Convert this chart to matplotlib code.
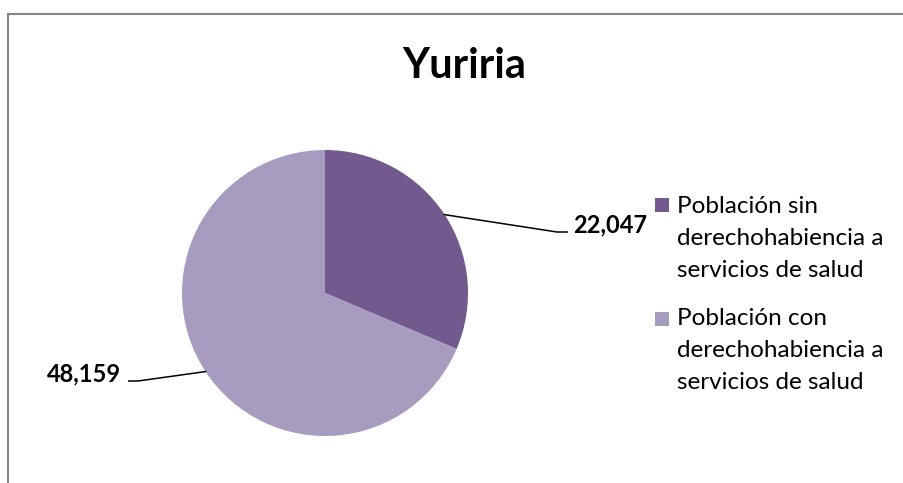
import numpy as np
import matplotlib
matplotlib.use("Agg")
import matplotlib.pyplot as plt
from matplotlib.patches import Rectangle

title = "Yuriria"
categories = ["Población sin\nderechohabiencia a\nservicios de salud",
              "Población con\nderechohabiencia a\nservicios de salud"]
values = [22047, 48159]
value_labels = ["22,047", "48,159"]
colors = ["#725A8E", "#A89BC0"]

plt.rcParams['font.family'] = ['Lato', 'DejaVu Sans']

W, H = 904, 483
fig = plt.figure(figsize=(W / 100, H / 100), dpi=100)
fig.patch.set_facecolor("white")

def fx(px):
    return px / W

def fy(py):
    return 1 - py / H

# border
fig.patches.append(Rectangle((fx(8), -0.1), 1.1, (H - 14) / H + 0.1,
                             transform=fig.transFigure, fill=False,
                             edgecolor="#868686", linewidth=1.5, zorder=0))

cx, cy, r = 325, 293, 143
ax = fig.add_axes([(cx - r) / W, (H - cy - r) / H, 2 * r / W, 2 * r / H])
wedges, _ = ax.pie(values, colors=colors, startangle=90, counterclock=False,
                   radius=1.0, wedgeprops=dict(linewidth=0))
ax.set_xlim(-1, 1)
ax.set_ylim(-1, 1)
ax.set_aspect("equal")
ax.axis("off")

# data labels with leader lines (knee x, line y, end x, text x, alignment)
label_pos = [(557, 232, 568, 573, "left"),
             (138, 381, 128, 121, "right")]
for w, lab, (kx, ly, ex, tx, ha) in zip(wedges, value_labels, label_pos):
    ang = np.deg2rad((w.theta1 + w.theta2) / 2)
    px, py = np.cos(ang), np.sin(ang)
    kxd, lyd, exd = (kx - cx) / r, (cy - ly) / r, (ex - cx) / r
    ax.plot([px * 0.995, kxd, exd], [py * 0.995, lyd, lyd], color="black", lw=1.1,
            clip_on=False, solid_capstyle="butt")
    ax.text((tx - cx) / r, lyd, lab, ha=ha, va="baseline", fontsize=17,
            fontweight="bold", clip_on=False)

fig.text(fx(464), fy(78), title, ha="center", va="baseline",
         fontsize=30, fontweight="bold")

# legend
for i, (cat, col) in enumerate(zip(categories, colors)):
    top = 198 + i * 114
    fig.patches.append(Rectangle((fx(655), fy(top + 14)), 14 / W, 14 / H,
                                 transform=fig.transFigure, facecolor=col,
                                 edgecolor="none"))
    for k, line in enumerate(cat.split("\n")):
        fig.text(fx(677), fy(213 + i * 112 + 32 * k), line, ha="left",
                 va="baseline", fontsize=17.5)

fig.savefig("out.png", dpi=100)
